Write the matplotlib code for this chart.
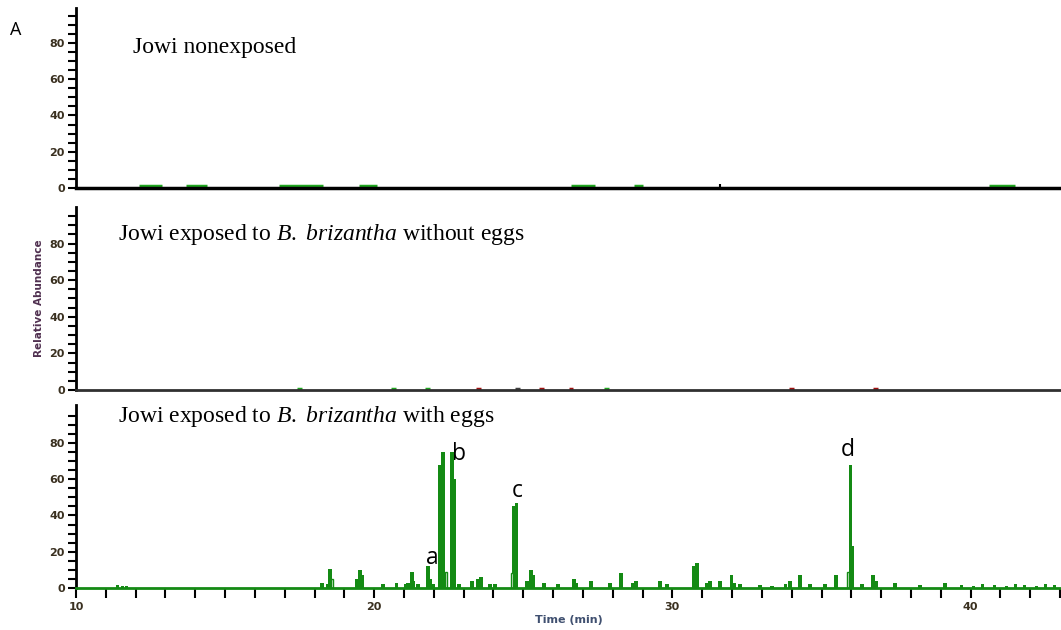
import matplotlib.pyplot as plt
import numpy as np

plt.rcParams['mathtext.fontset'] = 'custom'
plt.rcParams['mathtext.rm'] = 'Liberation Serif'
plt.rcParams['mathtext.it'] = 'Liberation Serif:italic'

# ---- data (time in min, relative abundance) ----
# bottom panel: with eggs
t_eggs = [11.4, 11.55, 11.7, 18.25, 18.45, 18.52, 19.42, 19.52, 19.59, 20.30, 20.76,
          21.07, 21.13, 21.27, 21.33, 21.47, 21.80, 21.87, 21.97, 22.21, 22.31,
          22.61, 22.70, 22.84, 23.28, 23.48, 23.58, 23.88, 24.05, 24.68, 24.76,
          25.12, 25.26, 25.33, 25.69, 26.16, 26.70, 26.77, 27.27, 27.91, 28.28,
          28.68, 28.78, 29.58, 29.82, 30.72, 30.82, 31.16, 31.26, 31.60, 31.97,
          32.07, 32.27, 32.94, 33.34, 33.78, 33.94, 34.28, 34.61, 35.12, 35.49,
          35.96, 36.02, 36.36, 36.73, 36.83, 37.46, 38.30, 39.14, 39.7, 40.1,
          40.4, 40.8, 41.2, 41.5, 41.8, 42.2, 42.5, 42.8]
h_eggs = [1.5, 1, 1, 3, 2, 10.5, 5, 10, 7, 2, 3,
          2, 3, 9, 4, 2, 12, 5, 2, 68, 75,
          75, 60, 2, 4, 5, 6, 2, 2, 45, 47,
          4, 10, 7, 3, 2, 5, 3, 4, 3, 8,
          3, 4, 4, 2, 12, 14, 3, 4, 4, 7,
          3, 2, 1.5, 1, 2, 4, 7, 2, 2, 7,
          68, 23, 2, 7, 4, 3, 1.5, 2.5, 1.5, 1,
          2, 1.5, 1, 2, 1.5, 1, 2, 1.5]
# hollow (outlined) peaks
t_hollow = [18.58, 22.41, 24.62, 35.89]
h_hollow = [5, 9, 8, 9]

peak_names = ['a', 'b', 'c', 'd']
label_t = [21.94, 22.86, 24.79, 35.88]
label_h = [13, 70.5, 50, 73]

# top panel: nonexposed (flat segments)
top_start = [12.1, 13.7, 16.8, 19.5, 26.6, 28.7, 40.6]
top_end = [12.9, 14.4, 18.3, 20.1, 27.4, 29.0, 41.5]

# middle panel: without eggs (tiny blips)
mid_t = [17.5, 20.65, 21.8, 23.5, 24.8, 25.6, 26.6, 27.8, 34.0, 36.8]
mid_c = ['g', 'g', 'g', 'r', 'k', 'r', 'r', 'g', 'r', 'r']

green = '#148a14'
cmap = {'g': '#1fa61f', 'r': '#a01010', 'k': '#404040'}
tick_col = '#3a3020'

fig = plt.figure(figsize=(10.61, 6.3), dpi=100)
ax1 = fig.add_axes([0.0716, 0.7016, 0.9284, 0.2857])
ax2 = fig.add_axes([0.0716, 0.381, 0.9284, 0.2905])
ax3 = fig.add_axes([0.0716, 0.0667, 0.9284, 0.2905])

for ax, top in zip([ax1, ax2, ax3], [99.3, 100, 101]):
    ax.set_xlim(10, 43.03)
    ax.set_ylim(0, top)
    for s in ['top', 'right']:
        ax.spines[s].set_visible(False)
    ax.spines['left'].set_linewidth(2)
    ax.set_yticks([0, 20, 40, 60, 80])
    ax.set_yticks(np.arange(0, 100, 5), minor=True)
    ax.tick_params(axis='y', which='both', direction='out', length=6, width=1.5,
                   labelsize=8, labelcolor=tick_col, pad=2)
    for lab in ax.get_yticklabels():
        lab.set_fontweight('bold')

# top
ax1.spines['bottom'].set_linewidth(2.5)
ax1.spines['bottom'].set_color('black')
ax1.set_xticks([])
ax1.hlines([0.9] * len(top_start), top_start, top_end, color='#1fa61f', lw=2.5)
ax1.vlines([31.6], 0, 2.2, color='black', lw=1.5)

# middle
ax2.spines['bottom'].set_linewidth(2)
ax2.spines['bottom'].set_color('#303030')
ax2.set_xticks([])
for t, c in zip(mid_t, mid_c):
    ax2.hlines(0.8, t - 0.08, t + 0.08, color=cmap[c], lw=2.5)
ax2.set_ylabel('Relative Abundance', fontsize=7.5, fontweight='bold', color='#503050',
               labelpad=4)

# bottom
ax3.spines['bottom'].set_color(green)
ax3.spines['bottom'].set_linewidth(2)
ax3.bar(t_eggs, h_eggs, width=0.11, color=green, linewidth=0)
ax3.bar(t_hollow, h_hollow, width=0.09, facecolor='white', edgecolor=green, linewidth=1)
ax3.set_xticks([10, 20, 30, 40])
ax3.set_xticks(np.arange(10, 44, 1), minor=True)
ax3.tick_params(axis='x', which='both', direction='out', length=7, width=1.5,
                color='black', labelsize=8, labelcolor=tick_col, pad=3)
for lab in ax3.get_xticklabels():
    lab.set_fontweight('bold')
ax3.set_xlabel('Time (min)', fontsize=8, fontweight='bold', color='#405070', labelpad=2)

for n, t, h in zip(peak_names, label_t, label_h):
    ax3.text(t, h, n, ha='center', va='baseline', fontsize=16.5,
             family='Open Sans', color='black')

# titles
fig.text(0.125, 0.916, 'Jowi nonexposed', family='Liberation Serif', fontsize=17)
fig.text(0.111, 0.619, 'Jowi exposed to $\\mathit{B.\\ brizantha}$ without eggs',
         family='Liberation Serif', fontsize=17)
fig.text(0.111, 0.330, 'Jowi exposed to $\\mathit{B.\\ brizantha}$ with eggs',
         family='Liberation Serif', fontsize=17)
fig.text(0.009, 0.945, 'A', family='Open Sans', fontsize=13)

fig.savefig('out.png', dpi=100)
